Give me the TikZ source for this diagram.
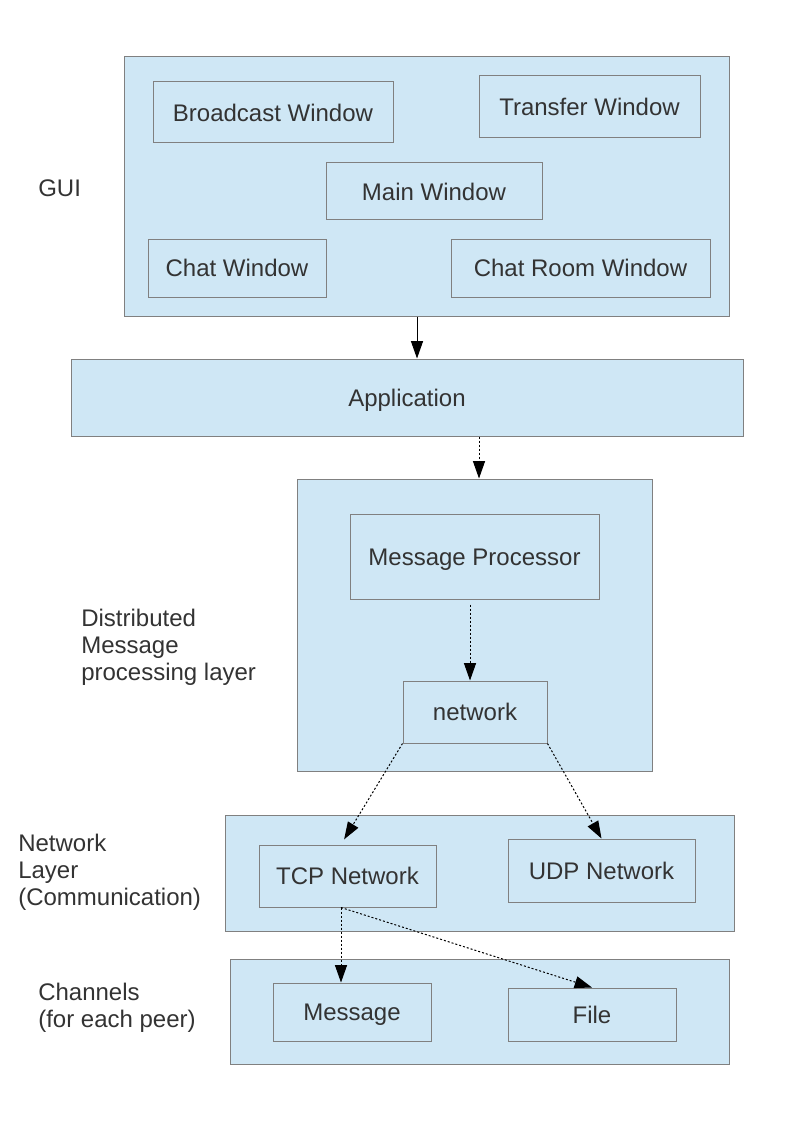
\documentclass[tikz,border=0pt]{standalone}
\usepackage{fontspec}
\setmainfont{Liberation Sans}
\usetikzlibrary{arrows.meta}
\definecolor{BoxFill}{HTML}{CFE7F5}
\definecolor{BoxLine}{HTML}{808080}
\definecolor{Ink}{HTML}{333333}

\begin{document}
\begin{tikzpicture}[x=0.75pt, y=-0.75pt,
  every node/.style={font=\fontsize{18}{20.25}\selectfont, text=Ink},
  layer/.style={draw=BoxLine, fill=BoxFill, line width=0.75pt, inner sep=0pt,
    text height=12.9pt, text depth=0pt},
  box/.style={layer},
  lbl/.style={anchor=west, align=left, inner sep=0pt},
  flow/.style={line width=0.75pt, -{Triangle[length=13pt,width=9pt]}},
  dotflow/.style={flow, dash pattern=on 1.5pt off 1.5pt}]
  \useasboundingbox (0,0) rectangle (794,1123);

  % layers
  \node[layer, minimum width=453.75pt, minimum height=194.25pt] (gui) at (426.5,186.5) {};
  \node[layer, minimum width=504pt, minimum height=57.75pt] (app) at (407,397.5) {Application};
  \node[layer, minimum width=266.25pt, minimum height=219pt] (dmp) at (474.5,625) {};
  \node[layer, minimum width=381.75pt, minimum height=87pt] (netlayer) at (479.5,873) {};
  \node[layer, minimum width=374.25pt, minimum height=78.75pt] (chan) at (479.5,1011.5) {};

  % GUI windows
  \node[box, minimum width=180pt, minimum height=45.75pt] (bcast) at (273,112.5) {Broadcast Window};
  \node[box, minimum width=165.75pt, minimum height=46.5pt] (transfer) at (589.5,107) {Transfer Window};
  \node[box, minimum width=162pt, minimum height=42.75pt] (mainwin) at (434,191.5) {Main Window};
  \node[box, minimum width=133.5pt, minimum height=43.5pt] (chat) at (237,268) {Chat Window};
  \node[box, minimum width=194.25pt, minimum height=43.5pt] (chatroom) at (580.5,268) {Chat Room Window};

  % message processing
  \node[box, minimum width=186.75pt, minimum height=63.75pt] (mp) at (474.5,556.5) {Message Processor};
  \node[box, minimum width=108pt, minimum height=46.5pt] (net) at (475,712) {network};

  % network
  \node[box, minimum width=132.75pt, minimum height=46.5pt] (tcp) at (347.5,876) {TCP Network};
  \node[box, minimum width=140.25pt, minimum height=47.25pt] (udp) at (601.5,870.5) {UDP Network};

  % channels
  \node[box, minimum width=118.5pt, minimum height=43.5pt] (msg) at (352,1012) {Message};
  \node[box, minimum width=126pt, minimum height=39.75pt] (file) at (592,1014.5) {File};

  % layer labels
  \node[lbl] (guilbl) at (38,188) {GUI};
  \node[lbl] (dmplbl) at (81,647) {Distributed\\Message\\processing layer};
  \node[lbl] (netlbl) at (18,872) {Network\\Layer\\(Communication)};
  \node[lbl] (chanlbl) at (38,1008) {Channels\\(for each peer)};

  % connectors
  \coordinate (tcpout) at (tcp.south -| 341,0);
  \draw[flow] (gui.south -| 417,0) -- (app.north -| 417,0);
  \draw[dotflow] (app.south -| 479,0) -- (dmp.north -| 479,0);
  \draw[dotflow, shorten <=3.75pt] (mp.south -| 470,0) -- (net.north -| 470,0);
  \draw[dotflow, shorten >=4.5pt] (net.south west) -- (tcp.north -| 341,0);
  \draw[dotflow] (net.south east) -- (udp.north);
  \draw[dotflow] (tcpout) -- (msg.north -| tcpout);
  \draw[dotflow] (tcpout) -- (file.north);
\end{tikzpicture}
\end{document}
